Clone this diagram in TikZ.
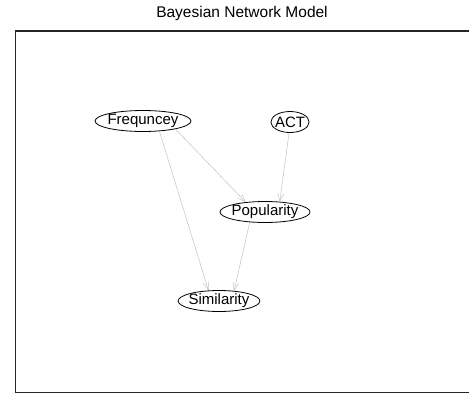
\documentclass[tikz,border=0pt]{standalone}
\usepackage{fontspec}
\setmainfont{Liberation Sans}
\usetikzlibrary{shapes.geometric,arrows.meta}

\tikzstyle{var}=[ellipse,
    draw=black,
    line width=0.8pt,
    inner xsep=-1.5pt,
    inner ysep=0pt,
    minimum height=21pt,
    font=\fontsize{15}{17}\selectfont]
\tikzstyle{link}=[draw=gray!55,
    -{Straight Barb[length=8pt,width=6pt]}]

\begin{document}
\begin{tikzpicture}[x=1pt,y=-1pt]
            \useasboundingbox (0,0) rectangle (469,394);
            \node (title) at (242,13) {\fontsize{15.5}{17}\selectfont Bayesian Network Model};
            \draw [black!85,line width=1.1pt] (470,31) -- (15.5,31) -- (15.5,392.5) -- (470,392.5);
            \node (freq) [var] at (143,121) {Frequncey};
            \node (act) [var] at (290,122) {ACT};
            \node (pop) [var] at (265,212) {Popularity};
            \node (sim) [var] at (219,301) {Similarity};
            \draw [link] (freq.-14) -- (pop.153);
            \draw [link] (freq.-32) -- (sim.135);
            \draw [link] (act.-95) -- (pop.35);
            \draw [link] (pop.-146) -- (sim.34);
        \end{tikzpicture}
\end{document}
